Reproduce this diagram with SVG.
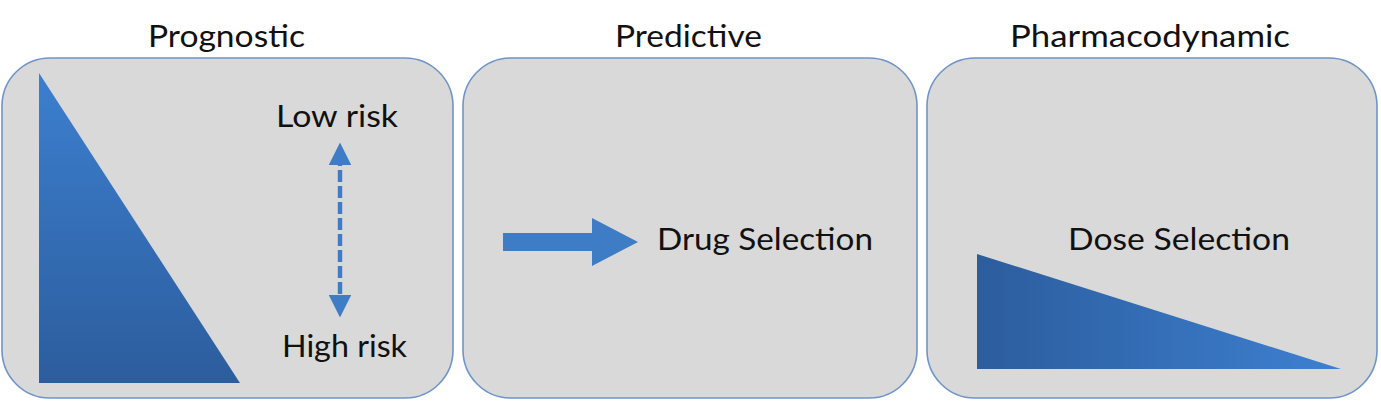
<svg xmlns="http://www.w3.org/2000/svg" width="1381" height="402" viewBox="0 0 1381 402">
<style>
.box{fill:#d9d9d9;stroke:#6f94c9;stroke-width:1.6}
.t{font-family:Lato,"Open Sans","Liberation Sans",sans-serif;font-size:30px;fill:#111;text-anchor:middle}
.blue{fill:#3f7cc6}
</style>
<defs>
<linearGradient id="g1" x1="0" y1="0" x2="0" y2="1">
<stop offset="0" stop-color="#3c7fcf"/>
<stop offset="1" stop-color="#2c5d9d"/>
</linearGradient>
<linearGradient id="g3" x1="0" y1="0" x2="1" y2="0">
<stop offset="0" stop-color="#2c5d9d"/>
<stop offset="1" stop-color="#3d80d1"/>
</linearGradient>
<marker id="ah" viewBox="0 0 10 10" refX="5" refY="5" markerWidth="5.2" markerHeight="5.2" orient="auto-start-reverse" markerUnits="strokeWidth">
<path d="M0,0 L10,5 L0,10 z" fill="#3f7cc6"/>
</marker>
</defs>
<rect width="1381" height="402" fill="#ffffff"/>
<g id="prognostic">
<text class="t" x="226.5" y="47" textLength="157" lengthAdjust="spacingAndGlyphs">Prognostic</text>
<rect class="box" x="2" y="58" width="451" height="340" rx="48" ry="48"/>
<polygon points="39,73 240,383 39,383" fill="url(#g1)"/>
<text class="t" x="337" y="127" textLength="122" lengthAdjust="spacingAndGlyphs">Low risk</text>
<text class="t" x="344.5" y="357" textLength="125" lengthAdjust="spacingAndGlyphs">High risk</text>
</g>
<g id="predictive">
<text class="t" x="688.5" y="47" textLength="147" lengthAdjust="spacingAndGlyphs">Predictive</text>
<rect class="box" x="463" y="58" width="454" height="340" rx="48" ry="48"/>
<polygon class="blue" points="503,233 592,233 592,218 638,242 592,266 592,251 503,251"/>
<text class="t" x="765" y="250" textLength="216" lengthAdjust="spacingAndGlyphs">Drug Selection</text>
</g>
<g id="pharmacodynamic">
<text class="t" x="1150" y="47" textLength="280" lengthAdjust="spacingAndGlyphs">Pharmacodynamic</text>
<rect class="box" x="927" y="58" width="450" height="340" rx="48" ry="48"/>
<polygon points="977,254 1341,369 977,369" fill="url(#g3)"/>
<text class="t" x="1179" y="250" textLength="222" lengthAdjust="spacingAndGlyphs">Dose Selection</text>
</g>
<g id="connectors">
<line x1="340" y1="154" x2="340" y2="306" stroke="#3f7cc6" stroke-width="4.4" stroke-dasharray="12,4" marker-start="url(#ah)" marker-end="url(#ah)"/>
</g>
</svg>
